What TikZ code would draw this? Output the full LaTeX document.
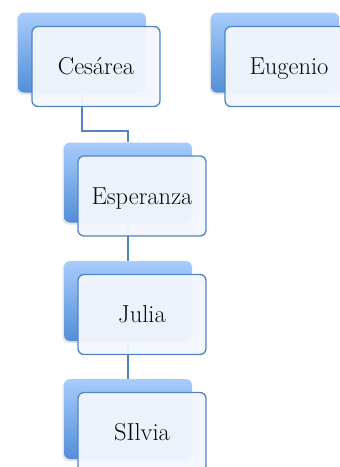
\documentclass[tikz,border=0pt]{standalone}
\usepackage{fontspec}
\usetikzlibrary{shadows}
\definecolor{bordc}{RGB}{84,132,192}
\definecolor{frontc}{RGB}{242,246,252}
\definecolor{backtop}{RGB}{168,204,252}
\definecolor{backbot}{RGB}{82,142,216}
\definecolor{txtc}{RGB}{10,10,10}
\tikzset{
  backbox/.style={rectangle, rounded corners=6pt, minimum width=128pt, minimum height=80pt,
    inner sep=0pt, top color=backtop, bottom color=backbot, draw=none,
    drop shadow={shadow xshift=-1.5pt, shadow yshift=-2pt, opacity=0.22}},
  frontbox/.style={rectangle, rounded corners=6pt, minimum width=128pt, minimum height=80pt,
    inner sep=0pt, draw=bordc, line width=1.3pt, fill=frontc, fill opacity=0.96, text opacity=1,
    text=txtc, font=\fontsize{24.5}{29}\selectfont, text height=16.5pt, text depth=0pt},
  link/.style={draw=bordc, line width=1.4pt}
}
\begin{document}
\begin{tikzpicture}[x=1pt,y=-1pt]
\useasboundingbox (0,0) rectangle (340,467);
% back boxes
\node[backbox] (cb) at (82,52.5) {};
\node[backbox] (gb) at (275,52.5) {};
\node[backbox] (eb) at (128,182.5) {};
\node[backbox] (jb) at (128,301) {};
\node[backbox] (sb) at (128,419) {};
% connectors
\coordinate (m1) at (82,131);
\draw[link] (cb.south) -- (m1) -| (eb.north);
\draw[link] (eb.south) -- (jb.north);
\draw[link] (jb.south) -- (sb.north);
% front boxes
\node[frontbox] (c) at (96,66.5) {Cesárea};
\node[frontbox] (g) at (289,66.5) {Eugenio};
\node[frontbox] (e) at (142,196) {Esperanza};
\node[frontbox] (j) at (142,314.5) {Julia};
\node[frontbox] (s) at (142,432.5) {SIlvia};
\end{tikzpicture}
\end{document}
